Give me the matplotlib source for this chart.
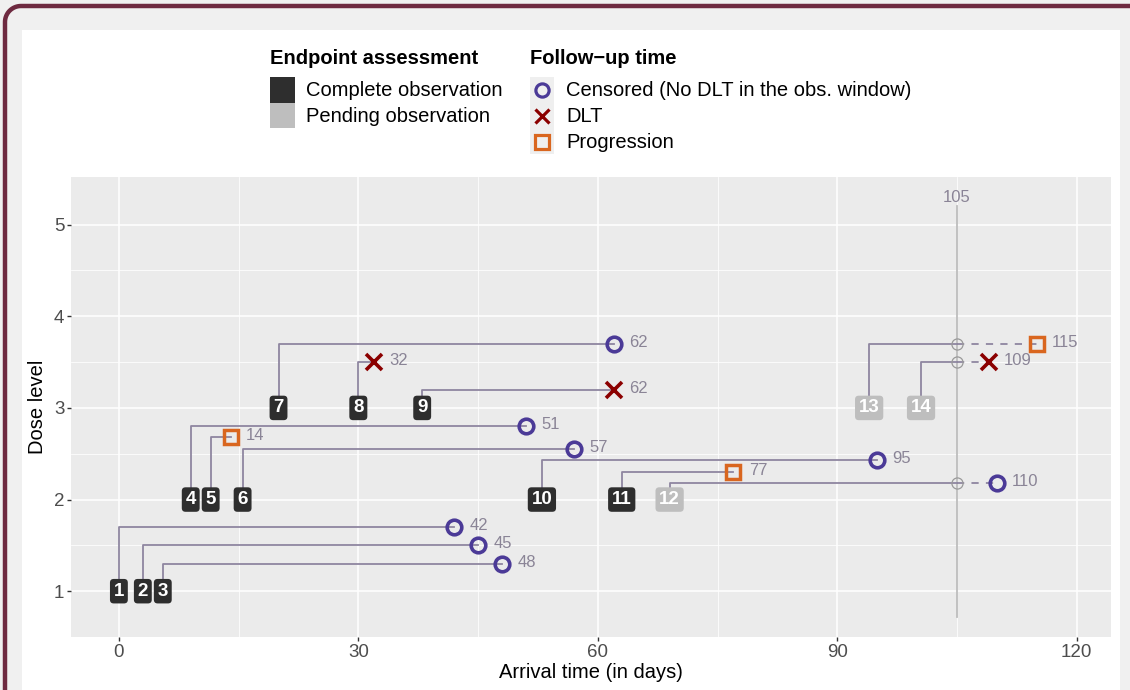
import numpy as np
import matplotlib.pyplot as plt
from matplotlib.patches import Rectangle
from matplotlib.lines import Line2D

plt.rcParams['font.family'] = ['Liberation Sans', 'DejaVu Sans']

# data
patients = [1, 2, 3, 4, 5, 6, 7, 8, 9, 10, 11, 12, 13, 14]
arrival = [0, 3, 5.5, 9, 11.5, 15.5, 20, 30, 38, 53, 63, 69, 94, 100.5]
dose = [1, 1, 1, 2, 2, 2, 3, 3, 3, 2, 2, 2, 3, 3]
line_y = [1.7, 1.5, 1.3, 2.8, 2.68, 2.55, 3.7, 3.5, 3.2, 2.43, 2.3, 2.18, 3.7, 3.5]
end_time = [42, 45, 48, 51, 14, 57, 62, 32, 62, 95, 77, 110, 115, 109]
event = ['cens', 'cens', 'cens', 'cens', 'prog', 'cens', 'cens', 'dlt', 'dlt',
         'cens', 'prog', 'cens', 'prog', 'dlt']
status = ['complete'] * 11 + ['pending'] * 3
current_day = 105

line_col = '#8E86A0'
txt_col = '#8A8496'
box_col = {'complete': '#2E2E2E', 'pending': '#BEBEBE'}
mk = {'cens': dict(marker='o', ms=10.5, mec='#4B3A97', mfc='none', mew=2.6),
      'dlt': dict(marker='x', ms=11, mec='#8B0000', mew=2.6),
      'prog': dict(marker='s', ms=10.5, mec='#D9661F', mfc='none', mew=2.5)}

W, H = 1130, 690
fig = plt.figure(figsize=(W / 100, H / 100), dpi=100, facecolor='#F0F0F0')

# white card and rounded top-left border
fig.patches.append(Rectangle((22 / W, 0), (1120 - 22) / W, (H - 30) / H,
                             transform=fig.transFigure, fc='white', ec='none', zorder=-1))
r = 16
t = np.linspace(np.pi, np.pi / 2, 20)
bx = np.concatenate([[5], 5 + r + r * np.cos(t), [W]])
by = np.concatenate([[H], 6 + r - r * np.sin(t), [6]])
fig.add_artist(Line2D(bx / W, 1 - by / H, transform=fig.transFigure,
                      color='#6E2A40', lw=3.2, zorder=-2))

ax = fig.add_axes([71 / W, 53 / H, 1040 / W, 460 / H])
ax.set_zorder(2)
ax.set_facecolor('#EBEBEB')
for s in ax.spines.values():
    s.set_visible(False)
ax.set_xlim(-6, 124.3)
ax.set_ylim(0.5, 5.52)
ax.set_xticks([0, 30, 60, 90, 120])
ax.set_xticks([15, 45, 75, 105], minor=True)
ax.set_yticks([1, 2, 3, 4, 5])
ax.set_yticks([1.5, 2.5, 3.5, 4.5], minor=True)
ax.grid(which='major', color='white', lw=1.1)
ax.grid(which='minor', color='white', lw=0.55)
ax.set_axisbelow(True)
ax.tick_params(which='major', length=2.8, width=1, color='#333333',
               labelsize=13.5, labelcolor='#4D4D4D', pad=2)
ax.tick_params(which='minor', length=0)
ax.set_xlabel('Arrival time (in days)', fontsize=14.5, labelpad=2)
ax.set_ylabel('Dose level', fontsize=14.5, labelpad=5)

# current day line
ax.plot([current_day, current_day], [0.72, 5.2], color='#BDBDBD', lw=1.3, zorder=2)
ax.text(current_day, 5.3, str(current_day), color=txt_col, fontsize=12,
        ha='center', va='center')

for i in range(len(patients)):
    a, d, ly, e = arrival[i], dose[i], line_y[i], end_time[i]
    if status[i] == 'pending' and e > current_day:
        ax.plot([a, a, current_day], [d, ly, ly], color=line_col, lw=1.3, zorder=3)
        ax.plot([current_day, e], [ly, ly], color=line_col, lw=1.3,
                ls=(0, (4, 4)), zorder=3)
        ax.plot([current_day], [ly], marker='o', ms=8, mfc='none', mec='#9A9A9A',
                mew=0.9, zorder=4)
    else:
        ax.plot([a, a, e], [d, ly, ly], color=line_col, lw=1.3, zorder=3)
    ax.plot([e], [ly], ls='none', zorder=5, **mk[event[i]])
    ax.annotate(str(e), (e, ly), xytext=(11, 1), textcoords='offset points',
                color=txt_col, fontsize=12, ha='left', va='center')
    ax.text(a, d, str(patients[i]), color='white', fontsize=13.5, fontweight='bold',
            ha='center', va='center', zorder=6,
            bbox=dict(boxstyle='round,pad=0.2,rounding_size=0.2',
                      fc=box_col[status[i]], ec='none'))


def fxy(x, y):
    return x / W, 1 - y / H


# legend: endpoint assessment
fig.text(*fxy(270, 58), 'Endpoint assessment', fontsize=14.5, fontweight='bold',
         ha='left', va='center')
fig.patches.append(Rectangle(fxy(270, 103), 25 / W, 26 / H, transform=fig.transFigure,
                             fc=box_col['complete'], ec='none'))
fig.patches.append(Rectangle(fxy(270, 128), 25 / W, 25 / H, transform=fig.transFigure,
                             fc=box_col['pending'], ec='none'))
fig.text(*fxy(306, 91), 'Complete observation', fontsize=14.5, ha='left', va='center')
fig.text(*fxy(306, 116), 'Pending observation', fontsize=14.5, ha='left', va='center')

# legend: follow-up time
fig.text(*fxy(530, 58), 'Follow\u2212up time', fontsize=14.5, fontweight='bold',
         ha='left', va='center')
fig.patches.append(Rectangle(fxy(530, 154), 24 / W, 77 / H, transform=fig.transFigure,
                             fc='#EFEFEF', ec='none'))
leg_items = [('cens', 'Censored (No DLT in the obs. window)', 90),
             ('dlt', 'DLT', 116), ('prog', 'Progression', 142)]
for key, lab, yy in leg_items:
    kw = dict(mk[key])
    kw['ms'] = 9.5
    kw['mew'] = 2.3
    fig.add_artist(Line2D([542 / W], [1 - yy / H], transform=fig.transFigure,
                          ls='none', **kw))
    fig.text(*fxy(566, yy), lab, fontsize=14.5, ha='left', va='center')

fig.savefig('out.png', dpi=100, facecolor=fig.get_facecolor())
